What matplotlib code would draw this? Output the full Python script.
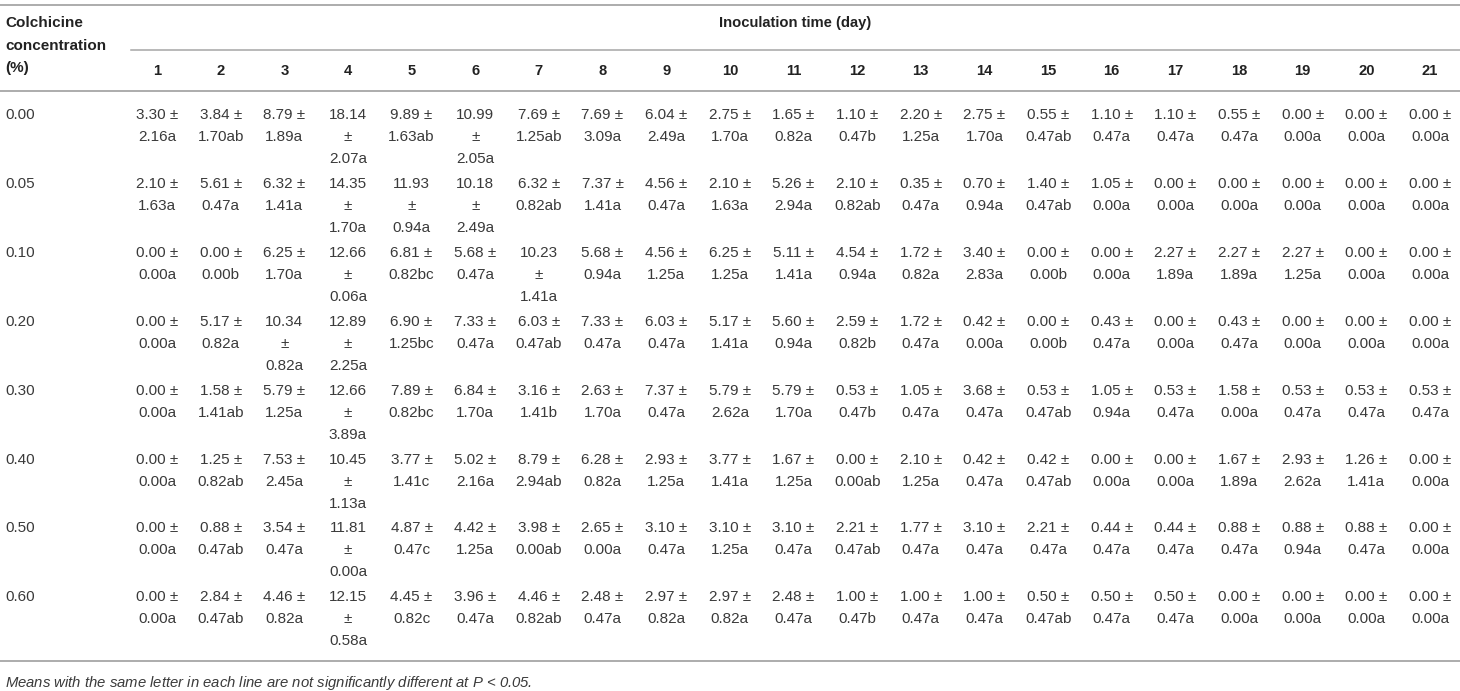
import matplotlib.pyplot as plt

# Table data: colchicine concentration (%) vs inoculation day
concentrations = ['0.00', '0.05', '0.10', '0.20', '0.30', '0.40', '0.50', '0.60']
days = list(range(1, 22))

means = [
    [3.30, 3.84, 8.79, 18.14, 9.89, 10.99, 7.69, 7.69, 6.04, 2.75, 1.65, 1.10, 2.20, 2.75, 0.55, 1.10, 1.10, 0.55, 0.00, 0.00, 0.00],
    [2.10, 5.61, 6.32, 14.35, 11.93, 10.18, 6.32, 7.37, 4.56, 2.10, 5.26, 2.10, 0.35, 0.70, 1.40, 1.05, 0.00, 0.00, 0.00, 0.00, 0.00],
    [0.00, 0.00, 6.25, 12.66, 6.81, 5.68, 10.23, 5.68, 4.56, 6.25, 5.11, 4.54, 1.72, 3.40, 0.00, 0.00, 2.27, 2.27, 2.27, 0.00, 0.00],
    [0.00, 5.17, 10.34, 12.89, 6.90, 7.33, 6.03, 7.33, 6.03, 5.17, 5.60, 2.59, 1.72, 0.42, 0.00, 0.43, 0.00, 0.43, 0.00, 0.00, 0.00],
    [0.00, 1.58, 5.79, 12.66, 7.89, 6.84, 3.16, 2.63, 7.37, 5.79, 5.79, 0.53, 1.05, 3.68, 0.53, 1.05, 0.53, 1.58, 0.53, 0.53, 0.53],
    [0.00, 1.25, 7.53, 10.45, 3.77, 5.02, 8.79, 6.28, 2.93, 3.77, 1.67, 0.00, 2.10, 0.42, 0.42, 0.00, 0.00, 1.67, 2.93, 1.26, 0.00],
    [0.00, 0.88, 3.54, 11.81, 4.87, 4.42, 3.98, 2.65, 3.10, 3.10, 3.10, 2.21, 1.77, 3.10, 2.21, 0.44, 0.44, 0.88, 0.88, 0.88, 0.00],
    [0.00, 2.84, 4.46, 12.15, 4.45, 3.96, 4.46, 2.48, 2.97, 2.97, 2.48, 1.00, 1.00, 1.00, 0.50, 0.50, 0.50, 0.00, 0.00, 0.00, 0.00],
]

sds = [
    [2.16, 1.70, 1.89, 2.07, 1.63, 2.05, 1.25, 3.09, 2.49, 1.70, 0.82, 0.47, 1.25, 1.70, 0.47, 0.47, 0.47, 0.47, 0.00, 0.00, 0.00],
    [1.63, 0.47, 1.41, 1.70, 0.94, 2.49, 0.82, 1.41, 0.47, 1.63, 2.94, 0.82, 0.47, 0.94, 0.47, 0.00, 0.00, 0.00, 0.00, 0.00, 0.00],
    [0.00, 0.00, 1.70, 0.06, 0.82, 0.47, 1.41, 0.94, 1.25, 1.25, 1.41, 0.94, 0.82, 2.83, 0.00, 0.00, 1.89, 1.89, 1.25, 0.00, 0.00],
    [0.00, 0.82, 0.82, 2.25, 1.25, 0.47, 0.47, 0.47, 0.47, 1.41, 0.94, 0.82, 0.47, 0.00, 0.00, 0.47, 0.00, 0.47, 0.00, 0.00, 0.00],
    [0.00, 1.41, 1.25, 3.89, 0.82, 1.70, 1.41, 1.70, 0.47, 2.62, 1.70, 0.47, 0.47, 0.47, 0.47, 0.94, 0.47, 0.00, 0.47, 0.47, 0.47],
    [0.00, 0.82, 2.45, 1.13, 1.41, 2.16, 2.94, 0.82, 1.25, 1.41, 1.25, 0.00, 1.25, 0.47, 0.47, 0.00, 0.00, 1.89, 2.62, 1.41, 0.00],
    [0.00, 0.47, 0.47, 0.00, 0.47, 1.25, 0.00, 0.00, 0.47, 1.25, 0.47, 0.47, 0.47, 0.47, 0.47, 0.47, 0.47, 0.47, 0.94, 0.47, 0.00],
    [0.00, 0.47, 0.82, 0.58, 0.82, 0.47, 0.82, 0.47, 0.82, 0.82, 0.47, 0.47, 0.47, 0.47, 0.47, 0.47, 0.47, 0.00, 0.00, 0.00, 0.00],
]

letters = [
    ['a', 'ab', 'a', 'a', 'ab', 'a', 'ab', 'a', 'a', 'a', 'a', 'b', 'a', 'a', 'ab', 'a', 'a', 'a', 'a', 'a', 'a'],
    ['a', 'a', 'a', 'a', 'a', 'a', 'ab', 'a', 'a', 'a', 'a', 'ab', 'a', 'a', 'ab', 'a', 'a', 'a', 'a', 'a', 'a'],
    ['a', 'b', 'a', 'a', 'bc', 'a', 'a', 'a', 'a', 'a', 'a', 'a', 'a', 'a', 'b', 'a', 'a', 'a', 'a', 'a', 'a'],
    ['a', 'a', 'a', 'a', 'bc', 'a', 'ab', 'a', 'a', 'a', 'a', 'b', 'a', 'a', 'b', 'a', 'a', 'a', 'a', 'a', 'a'],
    ['a', 'ab', 'a', 'a', 'bc', 'a', 'b', 'a', 'a', 'a', 'a', 'b', 'a', 'a', 'ab', 'a', 'a', 'a', 'a', 'a', 'a'],
    ['a', 'ab', 'a', 'a', 'c', 'a', 'ab', 'a', 'a', 'a', 'a', 'ab', 'a', 'a', 'ab', 'a', 'a', 'a', 'a', 'a', 'a'],
    ['a', 'ab', 'a', 'a', 'c', 'a', 'ab', 'a', 'a', 'a', 'a', 'ab', 'a', 'a', 'a', 'a', 'a', 'a', 'a', 'a', 'a'],
    ['a', 'ab', 'a', 'a', 'c', 'a', 'ab', 'a', 'a', 'a', 'a', 'b', 'a', 'a', 'ab', 'a', 'a', 'a', 'a', 'a', 'a'],
]

footnote = "Means with the same letter in each line are not significantly different at $P$ < 0.05."

# Layout in pixel units
W, H = 1460, 691
col_x0, col_step = 157, 63.65
row_y0, row_step = 115, 68.9
line_h = 22
txt_col = '#3a3a3a'
rule_col = '#a6a6a6'

plt.rcParams['font.family'] = ['Liberation Sans', 'DejaVu Sans']
plt.rcParams['mathtext.fontset'] = 'custom'
plt.rcParams['mathtext.it'] = 'Liberation Sans:italic'

fig = plt.figure(figsize=(W / 100, H / 100), dpi=100)
ax = fig.add_axes([0, 0, 1, 1])
ax.set_xlim(0, W)
ax.set_ylim(H, 0)
ax.axis('off')

# Rules
ax.plot([0, W], [5, 5], color=rule_col, lw=1.3)
ax.plot([131, W], [50, 50], color=rule_col, lw=1.1)
ax.plot([0, W], [91, 91], color=rule_col, lw=1.3)
ax.plot([0, W], [661, 661], color=rule_col, lw=1.3)

# Header
for i, s in enumerate(['Colchicine', 'concentration', '(%)']):
    ax.text(5, 23 + i * 22.5, s, ha='left', va='center', fontsize=11,
            fontweight='bold', color='#222222')
ax.text((131 + W) / 2, 23, 'Inoculation time (day)', ha='center', va='center',
        fontsize=10.6, fontweight='bold', color='#222222')
for j, d in enumerate(days):
    ax.text(col_x0 + j * col_step, 71, str(d), ha='center', va='center',
            fontsize=10.6, fontweight='bold', color='#222222')

# Body
for i, conc in enumerate(concentrations):
    y = row_y0 + i * row_step
    ax.text(5, y, conc, ha='left', va='center', fontsize=11, color=txt_col)
    for j in range(len(days)):
        m = f"{means[i][j]:.2f}"
        sd = f"{sds[i][j]:.2f}{letters[i][j]}"
        if len(m) > 4:
            lines = [m, '±', sd]
        else:
            lines = [m + ' ±', sd]
        for k, s in enumerate(lines):
            ax.text(col_x0 + j * col_step, y + k * line_h, s, ha='center',
                    va='center', fontsize=11, color=txt_col)

ax.text(5, 683, footnote, ha='left', va='center', fontsize=10.7,
        style='italic', color=txt_col)

fig.savefig('out.png', dpi=100)
